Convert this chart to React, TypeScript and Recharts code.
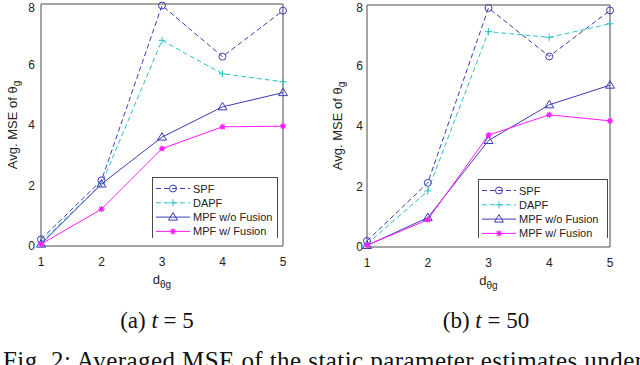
import React from 'react';
import { LineChart, Line, XAxis, YAxis, ReferenceLine, Legend } from 'recharts';

// ---- data ----
const dims = [1, 2, 3, 4, 5];
const yTicks = [0, 2, 4, 6, 8];

// (a) t = 5
const spfT5 = [0.22, 2.17, 7.95, 6.26, 7.78];
const dapfT5 = [0.12, 2.05, 6.8, 5.69, 5.43];
const mpfNoFusionT5 = [0.06, 2.05, 3.6, 4.6, 5.07];
const mpfFusionT5 = [0.06, 1.22, 3.22, 3.94, 3.96];

// (b) t = 50
const spfT50 = [0.2, 2.12, 7.9, 6.3, 7.82];
const dapfT50 = [0.1, 1.85, 7.12, 6.93, 7.38];
const mpfNoFusionT50 = [0.05, 0.97, 3.52, 4.7, 5.35];
const mpfFusionT50 = [0.06, 0.9, 3.7, 4.37, 4.17];

const seriesNames = ['SPF', 'DAPF', 'MPF w/o Fusion', 'MPF w/ Fusion'];
const seriesKeys = ['spf', 'dapf', 'mpfNo', 'mpfW'];

// ---- styles ----
const styles: Record<string, { color: string; dash?: string; marker: string }> = {
  spf: { color: '#3b3bb8', dash: '5 3', marker: 'circle' },
  dapf: { color: '#2ec2c4', dash: '5 3', marker: 'plus' },
  mpfNo: { color: '#3b3bb8', marker: 'triangle' },
  mpfW: { color: '#ff1cff', marker: 'star' },
};

const SANS = '"Liberation Sans", Arial, Helvetica, sans-serif';
const SERIF = '"Liberation Serif", "Times New Roman", serif';
const AXIS = '#4a4a4a';

function buildData(a: number[], b: number[], c: number[], d: number[]) {
  return dims.map((x, i) => ({ d: x, spf: a[i], dapf: b[i], mpfNo: c[i], mpfW: d[i] }));
}

const dataT5 = buildData(spfT5, dapfT5, mpfNoFusionT5, mpfFusionT5);
const dataT50 = buildData(spfT50, dapfT50, mpfNoFusionT50, mpfFusionT50);

function Marker({ kind, cx, cy, color }: { kind: string; cx: number; cy: number; color: string }) {
  if (cx == null || cy == null) return null;
  if (kind === 'circle')
    return <circle cx={cx} cy={cy} r={3.5} fill="none" stroke={color} strokeWidth={1} />;
  if (kind === 'plus')
    return (
      <path d={`M${cx - 3.5},${cy}H${cx + 3.5}M${cx},${cy - 3.5}V${cy + 3.5}`} stroke={color} strokeWidth={1} fill="none" />
    );
  if (kind === 'triangle')
    return (
      <path d={`M${cx},${cy - 4.5}L${cx + 4.5},${cy + 3}L${cx - 4.5},${cy + 3}Z`} stroke={color} strokeWidth={1} fill="none" />
    );
  const r = 3;
  const q = 2.2;
  return (
    <path
      d={`M${cx - r},${cy}H${cx + r}M${cx},${cy - r}V${cy + r}M${cx - q},${cy - q}L${cx + q},${cy + q}M${cx - q},${cy + q}L${cx + q},${cy - q}`}
      stroke={color}
      strokeWidth={1.2}
      fill="none"
    />
  );
}

function LegendBox({ width, height }: { width: number; height: number }) {
  return (
    <div
      style={{
        width,
        height,
        borderTop: `1px solid ${AXIS}`,
        borderLeft: `1px solid ${AXIS}`,
        borderRight: `1px solid ${AXIS}`,
        background: '#fff',
        boxSizing: 'border-box',
      }}
    >
      <svg width={width - 2} height={height - 1} style={{ display: 'block' }}>
        {seriesKeys.map((k, i) => {
          const s = styles[k];
          const y = 10.5 + i * 14.3;
          return (
            <g key={k}>
              <line x1={3} x2={37} y1={y} y2={y} stroke={s.color} strokeDasharray={s.dash} strokeWidth={1} />
              <Marker kind={s.marker} cx={20} cy={y} color={s.color} />
              <text x={40} y={y + 4} fontFamily={SANS} fontSize={11} fill="#222">
                {seriesNames[i]}
              </text>
            </g>
          );
        })}
      </svg>
    </div>
  );
}

function Panel({
  data,
  yAxisWidth,
  margin,
  legendPos,
  yLabelX,
  yTickMargin,
}: {
  data: any[];
  yAxisWidth: number;
  margin: { top: number; right: number; bottom: number; left: number };
  legendPos: { left: number; top: number; width: number; height: number };
  yLabelX: number;
  yTickMargin: number;
}) {
  return (
    <LineChart width={320} height={300} data={data} margin={margin}>
      <XAxis
        dataKey="d"
        type="number"
        domain={[1, 5]}
        ticks={dims}
        tickLine={false}
        tickSize={0}
        tickMargin={11}
        height={30}
        stroke={AXIS}
        tick={{ fill: '#222', fontFamily: SANS, fontSize: 12 }}
        label={{
          content: (p: any) => {
            const vb = p.viewBox || {};
            const cx = vb.x + vb.width / 2;
            return (
              <text x={cx} y={vb.y + 38} textAnchor="middle" fontFamily={SANS} fill="#222">
                <tspan fontSize={13}>d</tspan>
                <tspan fontSize={10} dy={4}>θg</tspan>
              </text>
            );
          },
        }}
      />
      <YAxis
        type="number"
        domain={[0, 8]}
        ticks={yTicks}
        width={yAxisWidth}
        tickLine={false}
        tickSize={0}
        tickMargin={yTickMargin}
        stroke={AXIS}
        tick={{ fill: '#222', fontFamily: SANS, fontSize: 12 }}
        label={{
          content: (p: any) => {
            const vb = p.viewBox || {};
            const cy = vb.y + vb.height / 2;
            return (
              <text
                x={yLabelX}
                y={cy}
                transform={`rotate(-90 ${yLabelX} ${cy})`}
                textAnchor="middle"
                fontFamily={SANS}
                fill="#222"
              >
                <tspan fontSize={13}>Avg. MSE of θ</tspan>
                <tspan fontSize={10} dy={3}>g</tspan>
              </text>
            );
          },
        }}
      />
      <ReferenceLine y={8} stroke={AXIS} strokeWidth={1} />
      <ReferenceLine x={5} stroke={AXIS} strokeWidth={1} />
      {seriesKeys.map((k, i) => {
        const s = styles[k];
        return (
          <Line
            key={k}
            dataKey={k}
            name={seriesNames[i]}
            type="linear"
            stroke={s.color}
            strokeWidth={1}
            strokeDasharray={s.dash}
            isAnimationActive={false}
            dot={(p: any) => <Marker key={`${k}-${p.index}`} kind={s.marker} cx={p.cx} cy={p.cy} color={s.color} />}
            activeDot={false}
          />
        );
      })}
      <Legend
        layout="vertical"
        align="center"
        verticalAlign="middle"
        wrapperStyle={{ ...legendPos }}
        content={() => <LegendBox width={legendPos.width} height={legendPos.height} />}
      />
    </LineChart>
  );
}

export default function App() {
  return (
    <div style={{ position: 'absolute', left: 0, top: 0, width: 640, height: 365, overflow: 'hidden', background: '#fff' }}>
      <div style={{ position: 'absolute', left: 0, top: 0 }}>
        <Panel
          data={dataT5}
          yAxisWidth={41}
          margin={{ top: 4, right: 37, bottom: 24, left: 0 }}
          legendPos={{ left: 152, top: 177, width: 126, height: 61 }}
          yLabelX={17}
          yTickMargin={6}
        />
      </div>
      <div style={{ position: 'absolute', left: 320, top: 0 }}>
        <Panel
          data={dataT50}
          yAxisWidth={47}
          margin={{ top: 5, right: 30, bottom: 23, left: 0 }}
          legendPos={{ left: 158, top: 179, width: 130, height: 59 }}
          yLabelX={22}
          yTickMargin={4}
        />
      </div>
      <svg width={640} height={365} style={{ position: 'absolute', left: 0, top: 0, pointerEvents: 'none' }}>
        <text x={157} y={328} textAnchor="middle" fontFamily={SERIF} fontSize={23} fill="#111">
          (a) <tspan fontStyle="italic">t</tspan> = 5
        </text>
        <text x={486} y={328} textAnchor="middle" fontFamily={SERIF} fontSize={23} fill="#111">
          (b) <tspan fontStyle="italic">t</tspan> = 50
        </text>
        <text x={3} y={369} fontFamily={SERIF} fontSize={25} fill="#111" textLength={640} lengthAdjust="spacing">
          Fig. 2: Averaged MSE of the static parameter estimates under
        </text>
      </svg>
    </div>
  );
}
